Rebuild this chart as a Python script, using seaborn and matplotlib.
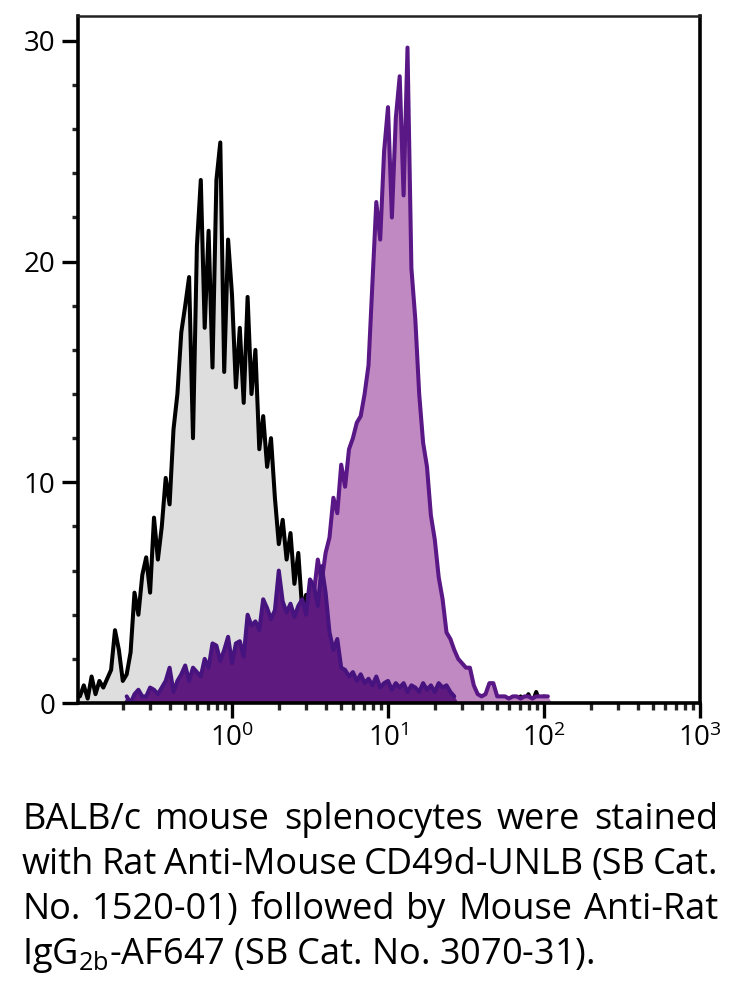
import numpy as np
import pandas as pd
import matplotlib
matplotlib.use("Agg")
import matplotlib.pyplot as plt
from matplotlib.ticker import LogLocator, FixedLocator, MultipleLocator, NullFormatter, FixedFormatter
import seaborn as sns

# ---------------- data ----------------
# channel positions: log10 of fluorescence, one channel every 0.025 decade
log_channels = np.linspace(-1.0, 2.1, 125)

isotype_counts = [
    0.3, 0.3, 0.8, 0.2, 1.2, 0.4, 1.0, 0.7, 1.1, 1.5,
    3.3, 2.4, 1.0, 1.3, 2.3, 5.0, 4.0, 5.8, 6.6, 5.0,
    8.4, 6.5, 8.0, 10.2, 9.0, 12.4, 14.0, 16.8, 18.0, 19.3,
    12.0, 20.7, 23.7, 17.0, 21.4, 15.2, 23.7, 25.4, 15.0, 21.0,
    18.5, 14.3, 17.0, 13.6, 18.4, 14.0, 16.0, 11.5, 13.0, 10.7,
    12.0, 9.3, 7.2, 8.3, 6.5, 7.7, 5.4, 6.8, 4.2, 4.9,
    2.5, 2.0, 1.5, 1.2, 0.8, 1.0, 0.6, 0.9, 0.5, 0.7,
    0.4, 0.6, 0.3, 0.5, 0.3, 0.4, 0.2, 0.4, 0.2, 0.3,
    0.1, 0.3, 0.1, 0.2, 0.1, 0.2, 0.1, 0.2, 0.0, 0.2,
    0.0, 0.1, 0.0, 0.2, 0.0, 0.1, 0.0, 0.1, 0.0, 0.2,
    0.0, 0.1, 0.0, 0.0, 0.1, 0.0, 0.0, 0.1, 0.3, 0.0,
    0.0, 0.2, 0.0, 0.1, 0.3, 0.0, 0.4, 0.0, 0.5, 0.0,
    0.3, 0.0, 0.0, 0.0, 0.0,
]

cd49d_counts = [0.0] * 47 + [
    0.5, 0.8, 1.0, 1.2, 1.5, 1.8, 2.0, 2.3, 2.6, 3.0,
    3.3, 3.8, 4.0, 4.6, 5.0, 6.5, 5.5, 6.8, 7.5, 9.3,
    8.6, 10.8, 9.8, 11.5, 12.0, 12.7, 13.0, 14.0, 15.3, 19.0,
    22.7, 21.0, 25.0, 27.0, 22.0, 26.5, 28.4, 23.0, 29.7, 19.7,
    17.4, 14.0, 11.8, 10.7, 8.5, 7.4, 5.7, 4.7, 3.2, 2.9,
    2.4, 2.0, 1.8, 1.6, 1.6, 0.8, 0.4, 0.3, 0.4, 0.9,
    0.9, 0.3, 0.3, 0.3, 0.2, 0.3, 0.3, 0.2, 0.3, 0.3,
    0.2, 0.3, 0.3, 0.3, 0.3, 0.0, 0.0, 0.0,
]

low_counts = [0.0] * 13 + [
    0.3, 0.0, 0.4, 0.6, 0.3, 0.3, 0.7, 0.6, 0.4, 0.7,
    1.0, 1.6, 0.5, 1.0, 1.3, 1.7, 1.0, 1.6, 1.4, 1.2,
    2.0, 1.6, 2.7, 2.6, 1.9, 2.4, 3.0, 1.8, 2.7, 2.8,
    2.1, 4.0, 3.5, 3.7, 3.3, 4.7, 4.3, 3.8, 4.2, 6.0,
    4.6, 4.1, 4.5, 3.9, 4.4, 4.7, 4.0, 5.6, 5.3, 4.4,
    6.2, 5.0, 3.2, 2.4, 2.9, 1.6, 1.5, 1.2, 1.4, 1.0,
    1.3, 0.9, 1.1, 0.8, 1.2, 0.7, 0.9, 1.0, 0.6, 0.9,
    0.7, 0.9, 0.5, 0.8, 0.7, 0.5, 0.9, 0.6, 0.8, 0.5,
    0.9, 0.7, 0.8, 0.5, 0.3,
] + [0.0] * 27

y_major = [0, 10, 20, 30]
y_labels = ["0", "10", "20", "30"]
x_major = [1, 10, 100, 1000]
x_labels = [r"$10^{0}$", r"$10^{1}$", r"$10^{2}$", r"$10^{3}$"]

caption_lines = [
    "BALB/c mouse splenocytes were stained",
    "with Rat Anti-Mouse CD49d-UNLB (SB Cat.",
    "No. 1520-01) followed by Mouse Anti-Rat",
    r"IgG$_{\mathrm{2b}}$-AF647 (SB Cat. No. 3070-31).",
]

# ---------------- style ----------------
sns.set_theme(style="ticks")
plt.rcParams["font.family"] = ["Open Sans", "DejaVu Sans"]
plt.rcParams["mathtext.fontset"] = "custom"
plt.rcParams["mathtext.rm"] = "Open Sans"
plt.rcParams["mathtext.it"] = "Open Sans:italic"
plt.rcParams["mathtext.bf"] = "Open Sans:bold"

W, H = 730, 982
fig = plt.figure(figsize=(W / 100, H / 100), dpi=100)
ax = fig.add_axes([78 / W, 1 - 703 / H, 622 / W, 687 / H])
ax.set_xscale("log")

x = 10 ** log_channels
series = {
    "isotype": np.array(isotype_counts),
    "cd49d": np.array(cd49d_counts),
    "low": np.array(low_counts),
}


def trimmed(name):
    y = series[name]
    nz = np.nonzero(y)[0]
    a, b = nz[0], nz[-1] + 1
    return pd.DataFrame({"x": x[a:b], "y": y[a:b]})


LW = 2.9
# isotype: grey fill, black outline
ax.fill_between(x, series["isotype"], color="#dedede", lw=0, zorder=1)
sns.lineplot(data=trimmed("isotype"), x="x", y="y", ax=ax, color="black", linewidth=LW,
             estimator=None, sort=False, zorder=2)
# CD49d stained: light purple
ax.fill_between(x, series["cd49d"], color="#c189c1", lw=0, zorder=3)
sns.lineplot(data=trimmed("cd49d"), x="x", y="y", ax=ax, color="#5a1786", linewidth=LW,
             estimator=None, sort=False, zorder=4)
# low population: dark purple
ax.fill_between(x, series["low"], color="#5f1a7f", lw=0, zorder=5)
sns.lineplot(data=trimmed("low"), x="x", y="y", ax=ax, color="#46137f", linewidth=LW,
             estimator=None, sort=False, zorder=6)

ax.set_xlim(0.103, 1000)
ax.set_ylim(0, 31.13)
ax.set_xlabel("")
ax.set_ylabel("")

ax.yaxis.set_major_locator(FixedLocator(y_major))
ax.yaxis.set_major_formatter(FixedFormatter(y_labels))
ax.yaxis.set_minor_locator(MultipleLocator(2))
ax.xaxis.set_major_locator(FixedLocator(x_major))
ax.xaxis.set_major_formatter(FixedFormatter(x_labels))
ax.xaxis.set_minor_locator(LogLocator(base=10, subs=np.arange(2, 10), numticks=20))
ax.xaxis.set_minor_formatter(NullFormatter())

ax.tick_params(axis="y", which="major", direction="out", length=11.5, width=2.4,
               labelsize=20, pad=5, colors="black")
ax.tick_params(axis="y", which="minor", direction="out", length=4.5, width=2.4)
ax.tick_params(axis="x", which="major", direction="out", length=10.8, width=2.4,
               labelsize=20, pad=5, colors="black")
ax.tick_params(axis="x", which="minor", direction="out", length=5, width=2.4)

for side in ["left", "right", "bottom"]:
    ax.spines[side].set_linewidth(2.6)
    ax.spines[side].set_color("black")
ax.spines["top"].set_linewidth(1.8)
ax.spines["top"].set_color("#222222")
for s in ax.spines.values():
    s.set_zorder(10)

# ---------------- caption (justified) ----------------
fs = 26
baselines = [829, 874, 919, 964]
left_px, right_px = 22, 718
fig.canvas.draw()
r = fig.canvas.get_renderer()
for k, line in enumerate(caption_lines):
    yb = 1 - baselines[k] / H
    if k < 3:
        words = line.split(" ")
        ts = [fig.text(0, yb, w, fontsize=fs, va="baseline", ha="left", color="black")
              for w in words]
        widths = [t.get_window_extent(r).width for t in ts]
        gap = (right_px - left_px - sum(widths)) / (len(words) - 1)
        xp = left_px
        for t, wdt in zip(ts, widths):
            t.set_x(xp / W)
            xp += wdt + gap
    else:
        t = fig.text(left_px / W, yb, line, fontsize=fs, va="baseline", ha="left",
                     color="black")

fig.savefig("out.png", dpi=100)
